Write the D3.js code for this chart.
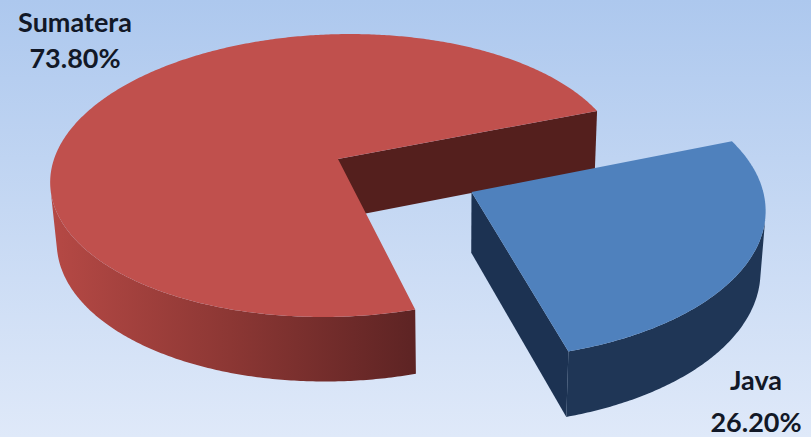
<!DOCTYPE html>
<html>
<head>
<meta charset="utf-8">
<script src="https://cdn.jsdelivr.net/npm/d3@7"></script>
<style>
  html, body { margin: 0; padding: 0; background: #fff; }
  svg { display: block; }
</style>
</head>
<body>
<div id="chart"></div>
<script>
// data
var islands = ['Sumatera', 'Java'];
var shares = [73.80, 26.20];
var shareLabels = ['73.80%', '26.20%'];

var W = 811, H = 437;

// 3d camera (world units: pie radius = 1)
var cam = { F: 2121, D: 7.47, tilt: 29.44 * Math.PI / 180, off: 0.41, xv: 454.4, yv: 159 };
var sinT = Math.sin(cam.tilt), cosT = Math.cos(cam.tilt);
var thick = 0.245;
var explode = [0, 0.522];
var firstAngle = 163.3 * Math.PI / 180;

var topCol = ['#c0504d', '#4f81bd'];
var edgeCol = ['#541f1d', '#1c3252'];
var sideCol = ['url(#redSide)', '#1f3656'];

function project(X, Y, Z) {
  var depth = cam.D + Y * cosT - Z * sinT;
  return [cam.xv + cam.F * (X - cam.off) / depth,
          cam.yv - cam.F * (Y * sinT + Z * cosT) / depth];
}
var camPos = [cam.off, -cam.D * cosT, cam.D * sinT];

var svg = d3.select('#chart').append('svg').attr('width', W).attr('height', H);
var defs = svg.append('defs');

var bg = defs.append('linearGradient').attr('id', 'bg')
  .attr('x1', 0).attr('y1', 0).attr('x2', 0).attr('y2', 1);
bg.append('stop').attr('offset', 0).attr('stop-color', '#adc8ee');
bg.append('stop').attr('offset', 1).attr('stop-color', '#dfe9f9');

var rs = defs.append('linearGradient').attr('id', 'redSide')
  .attr('gradientUnits', 'userSpaceOnUse')
  .attr('x1', 40).attr('y1', 0).attr('x2', 420).attr('y2', 0);
rs.append('stop').attr('offset', 0).attr('stop-color', '#b84a46');
rs.append('stop').attr('offset', 0.5).attr('stop-color', '#8c3734');
rs.append('stop').attr('offset', 1).attr('stop-color', '#5c2323');

svg.append('rect').attr('width', W).attr('height', H).attr('fill', 'url(#bg)');

var pie = d3.pie().sort(null).value(function (d) { return d; })
  .startAngle(firstAngle).endAngle(firstAngle + 2 * Math.PI);
var arcs = pie(shares);

var line = d3.line();
var g = svg.append('g');

arcs.forEach(function (a, i) {
  var mid = (a.startAngle + a.endAngle) / 2;
  var ox = explode[i] * Math.sin(mid), oy = explode[i] * Math.cos(mid);
  var n = Math.max(8, Math.ceil((a.endAngle - a.startAngle) / 0.01));
  var angs = d3.range(n + 1).map(function (k) { return a.startAngle + (a.endAngle - a.startAngle) * k / n; });
  function rim(t, z) { return project(ox + Math.sin(t), oy + Math.cos(t), z); }

  // radial side faces
  [[a.startAngle, -1], [a.endAngle, 1]].forEach(function (e) {
    var t = e[0];
    var nx = e[1] * Math.cos(t), ny = -e[1] * Math.sin(t);
    var qx = ox + 0.5 * Math.sin(t), qy = oy + 0.5 * Math.cos(t);
    var dot = nx * (camPos[0] - qx) + ny * (camPos[1] - qy);
    if (dot <= 0) return;
    var pts = [project(ox, oy, 0), rim(t, 0), rim(t, -thick), project(ox, oy, -thick)];
    g.append('path').attr('d', line(pts) + 'Z').attr('fill', edgeCol[i]);
  });

  // curved outer side, visible runs only
  var runs = [], cur = null;
  angs.forEach(function (t) {
    var X = ox + Math.sin(t), Y = oy + Math.cos(t);
    var vis = Math.sin(t) * (camPos[0] - X) + Math.cos(t) * (camPos[1] - Y) > 0;
    if (vis) { if (!cur) { cur = []; runs.push(cur); } cur.push(t); } else { cur = null; }
  });
  runs.forEach(function (r) {
    var top = r.map(function (t) { return rim(t, 0); });
    var bot = r.map(function (t) { return rim(t, -thick); }).reverse();
    g.append('path').attr('d', line(top.concat(bot)) + 'Z').attr('fill', sideCol[i]);
  });

  // top face
  var face = [project(ox, oy, 0)].concat(angs.map(function (t) { return rim(t, 0); }));
  g.append('path').attr('d', line(face) + 'Z').attr('fill', topCol[i]);
});

// labels
var labelPos = [[75, 32, 68], [756, 390, 432]];
var lab = svg.append('g')
  .style('font-family', 'Lato, "Open Sans", sans-serif')
  .style('font-weight', 'bold').style('font-size', '27px')
  .attr('fill', '#121827').attr('text-anchor', 'middle');
islands.forEach(function (name, i) {
  lab.append('text').attr('x', labelPos[i][0]).attr('y', labelPos[i][1]).text(name);
  lab.append('text').attr('x', labelPos[i][0]).attr('y', labelPos[i][2]).text(shareLabels[i]);
});
</script>
</body>
</html>
